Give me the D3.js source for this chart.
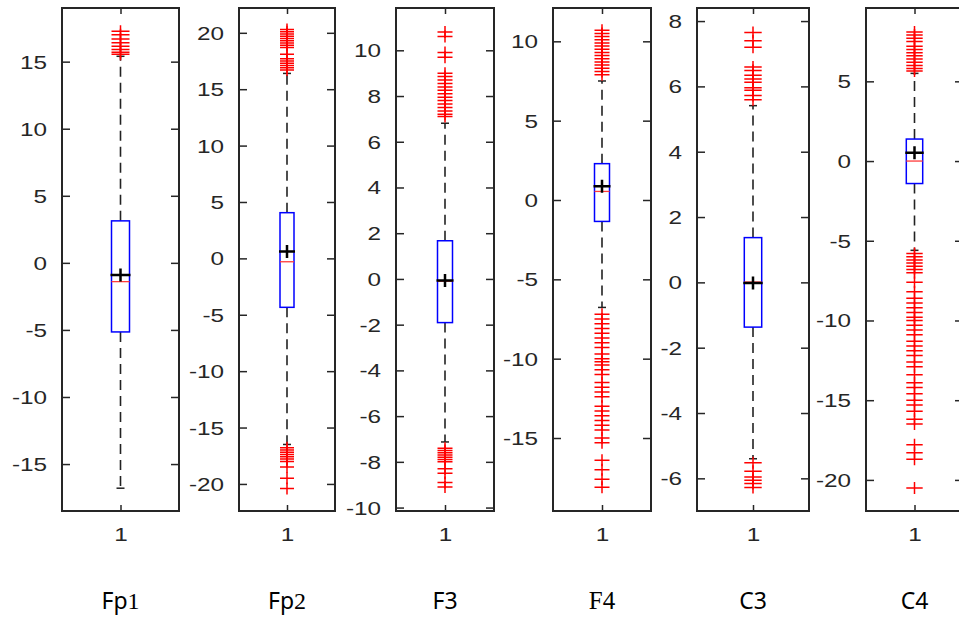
<!DOCTYPE html>
<html>
<head>
<meta charset="utf-8">
<script src="https://cdn.jsdelivr.net/npm/d3@7"></script>
<style>
  body { margin: 0; background: #fff; }
  svg { display: block; }
</style>
</head>
<body>
<div id="chart"></div>
<script>
const width = 959;
const height = 617;

// ---- data ----
const channels = ["Fp1", "Fp2", "F3", "F4", "C3", "C4"];
const xTickLabel = "1";
const yMin = [-18.5, -22.4, -10.15, -19.6, -7.0, -21.95];
const yMax = [19.0, 22.2, 11.85, 12.1, 8.4, 9.6];
const yTicks = [
  [-15, -10, -5, 0, 5, 10, 15],
  [-20, -15, -10, -5, 0, 5, 10, 15, 20],
  [-10, -8, -6, -4, -2, 0, 2, 4, 6, 8, 10],
  [-15, -10, -5, 0, 5, 10],
  [-6, -4, -2, 0, 2, 4, 6, 8],
  [-20, -15, -10, -5, 0, 5]
];
const q1 = [-5.15, -4.34, -1.91, -1.35, -1.37, -1.41];
const q3 = [3.13, 4.05, 1.67, 2.29, 1.37, 1.38];
const medians = [-1.4, -0.3, -0.1, 0.54, 0.01, 0.0];
const means = [-0.9, 0.6, -0.07, 0.86, -0.02, 0.52];
const whiskerLow = [-16.8, -16.5, -7.13, -6.77, -5.4, -5.6];
const whiskerHigh = [15.4, 16.4, 6.81, 7.5, 5.41, 5.5];
const outliersHigh = [
  [17.26, 17.01, 16.69, 16.4, 16.14, 15.9, 15.7, 15.55],
  [20.3, 20.1, 19.9, 19.7, 19.5, 19.3, 19.1, 18.9, 18.7, 18.1, 17.7, 17.5, 17.3, 17.1, 16.9, 16.7],
  [10.8, 10.6, 9.9, 9.7, 9.0, 8.85, 8.7, 8.55, 8.4, 8.25, 8.1, 7.95, 7.8, 7.65, 7.5, 7.35, 7.2, 7.1],
  [10.7, 10.5, 10.3, 10.1, 9.9, 9.7, 9.5, 9.3, 9.1, 8.9, 8.7, 8.5, 8.3, 8.1, 7.9],
  [7.65, 7.4, 7.2, 6.59, 6.49, 6.34, 6.23, 6.13, 5.96, 5.88, 5.72, 5.59],
  [8.1, 7.9, 7.7, 7.5, 7.2, 7.0, 6.8, 6.6, 6.4, 6.2, 6.0, 5.8, 5.65]
];
const outliersLow = [
  [],
  [-16.8, -17.0, -17.2, -17.4, -17.6, -17.8, -18.0, -18.5, -19.5, -20.4],
  [-7.4, -7.5, -7.6, -7.7, -7.8, -7.9, -8.0, -8.3, -8.5, -8.9, -9.1],
  [-7.2, -7.5, -7.8, -8.1, -8.4, -8.7, -9.0, -9.3, -9.7, -10.0, -10.2, -10.4, -10.7, -11.0,
   -11.5, -11.8, -12.1, -12.4, -13.0, -13.3, -13.6, -13.9, -14.2, -14.5, -15.0, -15.3,
   -16.4, -17.0, -17.6, -18.1],
  [-5.52, -5.78, -5.96, -6.06, -6.16, -6.28],
  [-5.8, -6.0, -6.2, -6.4, -6.6, -6.8, -7.0, -7.6, -8.2, -8.6, -8.9, -9.2, -9.5, -9.8, -10.0,
   -10.3, -10.6, -10.9, -11.3, -11.6, -11.9, -12.2, -12.6, -12.9, -13.4, -13.9, -14.2, -14.6,
   -15.0, -15.3, -15.7, -16.2, -16.5, -17.8, -18.3, -18.7, -20.5]
];

// ---- layout (pixels) ----
const panelLeft = [62, 239, 396, 553, 697, 866];
const panelRight = [179, 335, 494, 651, 809, 963];
const boxHalf = [9, 7, 7.5, 7.5, 8.7, 8.2];
const plotTop = 8;
const plotBottom = 511;
const serifLabel = [1, 1, 0, 2, 0, 0]; // 0 sans, 1 digit in serif, 2 all serif

const svg = d3.select("#chart").append("svg")
    .attr("width", width)
    .attr("height", height);

const tickFont = "'Liberation Sans', Arial, sans-serif";
const axisColor = "#262626";

channels.forEach(function(name, i) {
    const g = svg.append("g");

    const x = d3.scalePoint()
        .domain([xTickLabel])
        .range([panelLeft[i], panelRight[i]])
        .padding(0.5);
    const y = d3.scaleLinear()
        .domain([yMin[i], yMax[i]])
        .range([plotBottom, plotTop]);
    const cx = x(xTickLabel);
    const hw = boxHalf[i];

    // frame
    g.append("rect")
        .attr("x", panelLeft[i])
        .attr("y", plotTop)
        .attr("width", panelRight[i] - panelLeft[i])
        .attr("height", plotBottom - plotTop)
        .attr("fill", "none")
        .attr("stroke", axisColor)
        .attr("stroke-width", 2);

    // axes, ticks pointing inward
    const yLeft = g.append("g")
        .attr("transform", "translate(" + panelLeft[i] + ",0)")
        .call(d3.axisLeft(y).tickValues(yTicks[i]).tickSize(-8).tickSizeOuter(0));
    g.append("g")
        .attr("transform", "translate(" + panelRight[i] + ",0)")
        .call(d3.axisRight(y).tickValues(yTicks[i]).tickSize(-8).tickSizeOuter(0).tickFormat(""));
    const xBottom = g.append("g")
        .attr("transform", "translate(0," + plotBottom + ")")
        .call(d3.axisBottom(x).tickSize(-6).tickSizeOuter(0));
    g.append("g")
        .attr("transform", "translate(0," + plotTop + ")")
        .call(d3.axisTop(x).tickSize(-6).tickSizeOuter(0).tickFormat(""));

    g.selectAll(".domain").remove();
    g.selectAll(".tick line")
        .attr("stroke", axisColor)
        .attr("stroke-width", 1.5);

    yLeft.selectAll("text")
        .attr("x", 0)
        .attr("dy", "0.36em")
        .attr("transform", "translate(-15,0) scale(1.35,1)")
        .attr("fill", axisColor)
        .attr("font-size", 18)
        .attr("font-family", tickFont)
        .text(function(d) { return d < 0 ? "-" + Math.abs(d) : d; });

    xBottom.selectAll("text")
        .attr("y", 0)
        .attr("dy", "0")
        .attr("transform", "translate(0,30) scale(1.35,1)")
        .attr("fill", axisColor)
        .attr("font-size", 18)
        .attr("font-family", tickFont);

    // whiskers
    g.append("line")
        .attr("x1", cx).attr("x2", cx)
        .attr("y1", y(q3[i])).attr("y2", y(whiskerHigh[i]))
        .attr("stroke", "#222").attr("stroke-width", 1.6)
        .attr("stroke-dasharray", "10,6");
    g.append("line")
        .attr("x1", cx).attr("x2", cx)
        .attr("y1", y(q1[i])).attr("y2", y(whiskerLow[i]))
        .attr("stroke", "#222").attr("stroke-width", 1.6)
        .attr("stroke-dasharray", "10,6");
    [whiskerLow[i], whiskerHigh[i]].forEach(function(v) {
        g.append("line")
            .attr("x1", cx - 4).attr("x2", cx + 4)
            .attr("y1", y(v)).attr("y2", y(v))
            .attr("stroke", "#222").attr("stroke-width", 1.5);
    });

    // box
    g.append("rect")
        .attr("x", cx - hw)
        .attr("y", y(q3[i]))
        .attr("width", hw * 2)
        .attr("height", y(q1[i]) - y(q3[i]))
        .attr("fill", "none")
        .attr("stroke", "#0000ff")
        .attr("stroke-width", 1.5);

    // median
    g.append("line")
        .attr("x1", cx - hw).attr("x2", cx + hw)
        .attr("y1", y(medians[i])).attr("y2", y(medians[i]))
        .attr("stroke", "#ff3b3b").attr("stroke-width", 1.3);

    // outliers
    const cross = function(v, h, vh) {
        const yy = y(v);
        return "M" + (cx - h) + "," + yy + "H" + (cx + h) +
               "M" + cx + "," + (yy - vh) + "V" + (yy + vh);
    };
    g.selectAll(".outlier")
        .data(outliersHigh[i].concat(outliersLow[i]))
        .enter()
        .append("path")
        .attr("class", "outlier")
        .attr("d", function(d) { return cross(d, hw, 6); })
        .attr("fill", "none")
        .attr("stroke", "#ff0000")
        .attr("stroke-width", 1.5);

    // mean marker
    g.append("path")
        .attr("d", cross(means[i], hw + 1, 6.5))
        .attr("fill", "none")
        .attr("stroke", "#000")
        .attr("stroke-width", 2.5);

    // channel label
    const label = svg.append("text")
        .attr("x", cx)
        .attr("y", 609)
        .attr("text-anchor", "middle")
        .attr("font-size", 23)
        .attr("fill", "#000");
    if (serifLabel[i] === 2) {
        label.attr("font-family", "'Liberation Serif', 'Times New Roman', serif")
            .attr("font-size", 25)
            .text(name);
    } else if (serifLabel[i] === 1) {
        label.attr("font-family", "'Noto Sans', 'Liberation Sans', sans-serif");
        label.append("tspan").text(name.slice(0, -1));
        label.append("tspan")
            .attr("font-family", "'Liberation Serif', 'Times New Roman', serif")
            .attr("font-size", 24)
            .text(name.slice(-1));
    } else {
        label.attr("font-family", "'Noto Sans', 'Liberation Sans', sans-serif")
            .text(name);
    }
});
</script>
</body>
</html>
